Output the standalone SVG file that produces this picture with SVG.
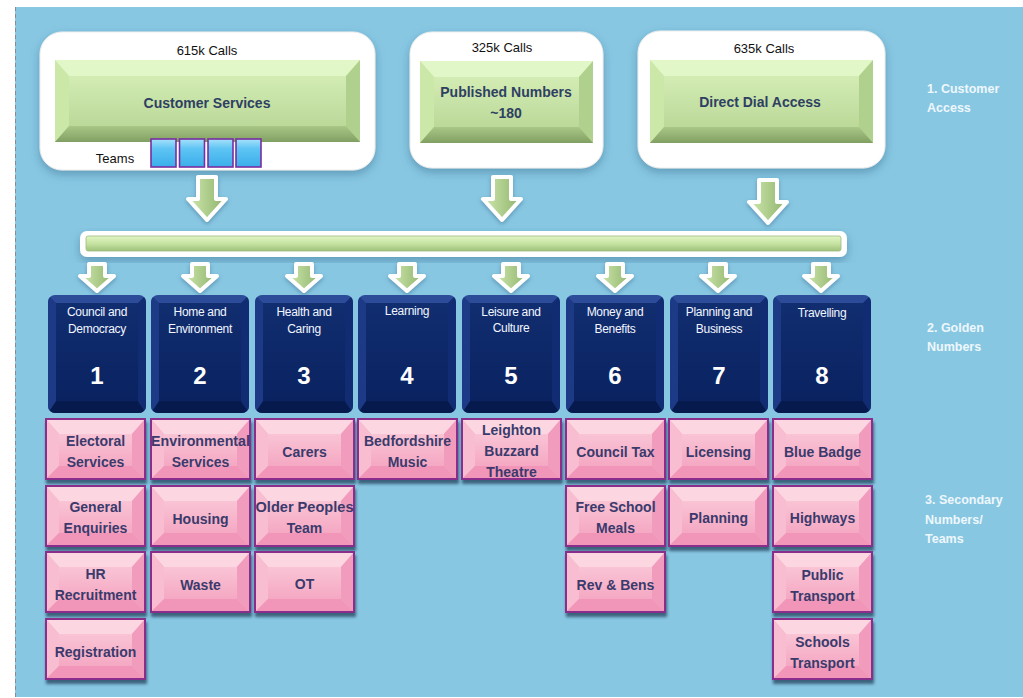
<svg xmlns="http://www.w3.org/2000/svg" xmlns:xlink="http://www.w3.org/1999/xlink" width="1023" height="698" viewBox="0 0 1023 698">
<style>
.calls{font-family:"Liberation Sans",Arial,sans-serif;font-size:13px;fill:#111;text-anchor:middle}
.gtitle{font-family:"Liberation Sans",Arial,sans-serif;font-size:14px;font-weight:bold;fill:#2E4062;text-anchor:middle}
.ht{font-family:"Liberation Sans",Arial,sans-serif;font-size:12px;fill:#F2F6FF;text-anchor:middle;letter-spacing:-0.3px}
.num{font-family:"Liberation Sans",Arial,sans-serif;font-size:24px;font-weight:bold;fill:#FFFFFF;text-anchor:middle}
.pt{font-family:"Liberation Sans",Arial,sans-serif;font-size:14px;font-weight:bold;fill:#3A3A6C;text-anchor:middle}
.side{font-family:"Liberation Sans",Arial,sans-serif;font-size:12.5px;font-weight:bold;fill:#EEF7FC}
.arrow{fill:url(#arrowG);stroke:#FFFFFF;stroke-width:4;stroke-linejoin:round}
.panel{fill:#FFFFFF;stroke:#EDEDED;stroke-width:1}
</style>
<defs>
  <linearGradient id="arrowG" x1="0" y1="0" x2="1" y2="0">
    <stop offset="0" stop-color="#CFE8AE"/>
    <stop offset="1" stop-color="#8FB36C"/>
  </linearGradient>
  <linearGradient id="greenFace" x1="0" y1="0" x2="0" y2="1">
    <stop offset="0" stop-color="#DAF2BC"/>
    <stop offset="1" stop-color="#B4D391"/>
  </linearGradient>
  <linearGradient id="greenBot" x1="0" y1="0" x2="0" y2="1">
    <stop offset="0" stop-color="#A9C887"/>
    <stop offset="1" stop-color="#809F62"/>
  </linearGradient>
  <linearGradient id="busG" x1="0" y1="0" x2="0" y2="1">
    <stop offset="0" stop-color="#E2F6C6"/>
    <stop offset="0.5" stop-color="#C6E3A2"/>
    <stop offset="1" stop-color="#9FC27B"/>
  </linearGradient>
  <linearGradient id="teamG" x1="0" y1="0" x2="0" y2="1">
    <stop offset="0" stop-color="#A6E2FB"/>
    <stop offset="0.35" stop-color="#5EC4F4"/>
    <stop offset="1" stop-color="#3AAEEA"/>
  </linearGradient>
  <linearGradient id="gface" x1="0" y1="0" x2="0" y2="1">
    <stop offset="0" stop-color="#112E70"/>
    <stop offset="1" stop-color="#0A2260"/>
  </linearGradient>
  <linearGradient id="pface" x1="0" y1="0" x2="0" y2="1">
    <stop offset="0" stop-color="#F9C4D5"/>
    <stop offset="1" stop-color="#F5A8C3"/>
  </linearGradient>
  <filter id="panelShadow" x="-10%" y="-10%" width="120%" height="130%">
    <feDropShadow dx="0" dy="4" stdDeviation="5" flood-color="#2F6688" flood-opacity="0.45"/>
  </filter>
  <filter id="boxShadow" x="-10%" y="-10%" width="120%" height="130%">
    <feDropShadow dx="1" dy="4" stdDeviation="1.6" flood-color="#23405C" flood-opacity="0.75"/>
  </filter>
  <filter id="arrowShadow" x="-30%" y="-20%" width="160%" height="150%">
    <feDropShadow dx="0" dy="2" stdDeviation="2" flood-color="#2F6688" flood-opacity="0.5"/>
  </filter>
  <clipPath id="gclip"><rect width="98" height="118" rx="7"/></clipPath>
  <g id="gbox">
    <g clip-path="url(#gclip)">
      <rect width="98" height="118" fill="#2C4B98"/>
      <polygon points="0,0 8,8 8,106 0,118" fill="#1C3A86"/>
      <polygon points="98,0 90,8 90,106 98,118" fill="#112C72"/>
      <polygon points="0,118 8,106 90,106 98,118" fill="#061A4E"/>
      <rect x="8" y="8" width="82" height="98" fill="url(#gface)"/>
    </g>
  </g>
  <g id="pbox">
    <rect width="101" height="62" fill="#F6AEC7"/>
    <polygon points="0,0 101,0 87,16 14,16" fill="#FCD6E1"/>
    <polygon points="0,0 14,16 14,48 0,62" fill="#F8BDD0"/>
    <polygon points="101,0 87,16 87,48 101,62" fill="#F29CBD"/>
    <polygon points="0,62 14,48 87,48 101,62" fill="#F196B8"/>
    <rect x="14" y="16" width="73" height="32" fill="url(#pface)"/>
    <rect x="1" y="1" width="99" height="60" fill="none" stroke="#8A2F8C" stroke-width="2"/>
  </g>
  <path id="bigArrow" d="M-9,0 H9 V22 H19 L0,43 L-19,22 H-9 Z"/>
  <path id="smArrow" d="M-8,0 H8 V12 H17 L0,27 L-17,12 H-8 Z"/>
  <rect id="team" width="25" height="28" fill="url(#teamG)" stroke="#7A2DA0" stroke-width="1.6"/>
</defs>

<!-- background -->
<rect x="0" y="0" width="1023" height="698" fill="#FFFFFF"/>
<rect x="15" y="7" width="1008" height="690" fill="#88C7E2"/>
<line x1="15.5" y1="7" x2="15.5" y2="697" stroke="#8A8A8A" stroke-width="1" stroke-dasharray="4,3"/>

<!-- Level 1: customer access -->
<g id="customer-services">
  <rect class="panel" x="40" y="32" width="335" height="138" rx="22" filter="url(#panelShadow)"/>
  <text class="calls" x="207" y="55">615k Calls</text>
  <rect x="55" y="60" width="305" height="82" fill="url(#greenFace)"/>
  <polygon points="55,60 360,60 346,76 69,76" fill="#E2F7C7"/>
  <polygon points="55,60 69,76 69,126 55,142" fill="#CBE8A9"/>
  <polygon points="360,60 346,76 346,126 360,142" fill="#B0D08D"/>
  <polygon points="55,142 69,126 346,126 360,142" fill="url(#greenBot)"/>
  <text class="gtitle" x="207" y="108">Customer Services</text>
  <text class="calls" x="115" y="163">Teams</text>
  <use href="#team" x="151" y="139"/>
  <use href="#team" x="179.5" y="139"/>
  <use href="#team" x="208" y="139"/>
  <use href="#team" x="236" y="139"/>
</g>

<g id="published-numbers">
  <rect class="panel" x="410" y="32" width="193" height="136" rx="22" filter="url(#panelShadow)"/>
  <text class="calls" x="502" y="52">325k Calls</text>
  <rect x="420" y="61" width="173" height="82" fill="url(#greenFace)"/>
  <polygon points="420,61 593,61 579,77 434,77" fill="#E2F7C7"/>
  <polygon points="420,61 434,77 434,127 420,143" fill="#CBE8A9"/>
  <polygon points="593,61 579,77 579,127 593,143" fill="#B0D08D"/>
  <polygon points="420,143 434,127 579,127 593,143" fill="url(#greenBot)"/>
  <text class="gtitle" x="506" y="97">Published Numbers</text>
  <text class="gtitle" x="506" y="118">~180</text>
</g>

<g id="direct-dial">
  <rect class="panel" x="638" y="31" width="247" height="137" rx="22" filter="url(#panelShadow)"/>
  <text class="calls" x="764" y="53">635k Calls</text>
  <rect x="650" y="60" width="223" height="83" fill="url(#greenFace)"/>
  <polygon points="650,60 873,60 859,76 664,76" fill="#E2F7C7"/>
  <polygon points="650,60 664,76 664,127 650,143" fill="#CBE8A9"/>
  <polygon points="873,60 859,76 859,127 873,143" fill="#B0D08D"/>
  <polygon points="650,143 664,127 859,127 873,143" fill="url(#greenBot)"/>
  <text class="gtitle" x="760" y="107">Direct Dial Access</text>
</g>

<!-- connectors -->
<g id="connectors">
  <use class="arrow" href="#bigArrow" x="207" y="177" filter="url(#arrowShadow)"/>
  <use class="arrow" href="#bigArrow" x="502" y="177" filter="url(#arrowShadow)"/>
  <use class="arrow" href="#bigArrow" x="768" y="180" filter="url(#arrowShadow)"/>
  <g id="bus">
    <rect x="80" y="231" width="767" height="26" rx="7" fill="#FFFFFF" filter="url(#panelShadow)"/>
    <rect x="86" y="236" width="755" height="15" rx="2" fill="url(#busG)" stroke="#9DBB7E" stroke-width="0.8"/>
  </g>
  <use class="arrow" href="#smArrow" x="97" y="264" filter="url(#arrowShadow)"/>
  <use class="arrow" href="#smArrow" x="200" y="264" filter="url(#arrowShadow)"/>
  <use class="arrow" href="#smArrow" x="304" y="264" filter="url(#arrowShadow)"/>
  <use class="arrow" href="#smArrow" x="407" y="264" filter="url(#arrowShadow)"/>
  <use class="arrow" href="#smArrow" x="511" y="264" filter="url(#arrowShadow)"/>
  <use class="arrow" href="#smArrow" x="615" y="264" filter="url(#arrowShadow)"/>
  <use class="arrow" href="#smArrow" x="718" y="264" filter="url(#arrowShadow)"/>
  <use class="arrow" href="#smArrow" x="821" y="264" filter="url(#arrowShadow)"/>
</g>

<!-- Level 2: golden numbers -->
<g id="golden-1"><use href="#gbox" x="48" y="295"/><text class="ht" x="97" y="316">Council and</text><text class="ht" x="97" y="333">Democracy</text><text class="num" x="97" y="384">1</text></g>
<g id="golden-2"><use href="#gbox" x="151" y="295"/><text class="ht" x="200" y="316">Home and</text><text class="ht" x="200" y="333">Environment</text><text class="num" x="200" y="384">2</text></g>
<g id="golden-3"><use href="#gbox" x="255" y="295"/><text class="ht" x="304" y="316">Health and</text><text class="ht" x="304" y="333">Caring</text><text class="num" x="304" y="384">3</text></g>
<g id="golden-4"><use href="#gbox" x="358" y="295"/><text class="ht" x="407" y="315">Learning</text><text class="num" x="407" y="384">4</text></g>
<g id="golden-5"><use href="#gbox" x="462" y="295"/><text class="ht" x="511" y="316">Leisure and</text><text class="ht" x="511" y="332">Culture</text><text class="num" x="511" y="384">5</text></g>
<g id="golden-6"><use href="#gbox" x="566" y="295"/><text class="ht" x="615" y="316">Money and</text><text class="ht" x="615" y="333">Benefits</text><text class="num" x="615" y="384">6</text></g>
<g id="golden-7"><use href="#gbox" x="670" y="295"/><text class="ht" x="719" y="316">Planning and</text><text class="ht" x="719" y="333">Business</text><text class="num" x="719" y="384">7</text></g>
<g id="golden-8"><use href="#gbox" x="773" y="295"/><text class="ht" x="822" y="317">Travelling</text><text class="num" x="822" y="384">8</text></g>

<!-- Level 3: secondary numbers / teams -->
<g id="electoral"><use href="#pbox" x="45" y="418" filter="url(#boxShadow)"/><text class="pt" x="95.5" y="446">Electoral</text><text class="pt" x="95.5" y="467">Services</text></g>
<g id="general-enquiries"><use href="#pbox" x="45" y="485" filter="url(#boxShadow)"/><text class="pt" x="95.5" y="512">General</text><text class="pt" x="95.5" y="533">Enquiries</text></g>
<g id="hr-recruitment"><use href="#pbox" x="45" y="551" filter="url(#boxShadow)"/><text class="pt" x="95.5" y="579">HR</text><text class="pt" x="95.5" y="600">Recruitment</text></g>
<g id="registration"><use href="#pbox" x="45" y="618" filter="url(#boxShadow)"/><text class="pt" x="95.5" y="657">Registration</text></g>

<g id="environmental"><use href="#pbox" x="150" y="418" filter="url(#boxShadow)"/><text class="pt" x="200.5" y="446" textLength="99" lengthAdjust="spacingAndGlyphs">Environmental</text><text class="pt" x="200.5" y="467">Services</text></g>
<g id="housing"><use href="#pbox" x="150" y="485" filter="url(#boxShadow)"/><text class="pt" x="200.5" y="524">Housing</text></g>
<g id="waste"><use href="#pbox" x="150" y="551" filter="url(#boxShadow)"/><text class="pt" x="200.5" y="590">Waste</text></g>

<g id="carers"><use href="#pbox" x="254" y="418" filter="url(#boxShadow)"/><text class="pt" x="304.5" y="457">Carers</text></g>
<g id="older-peoples"><use href="#pbox" x="254" y="485" filter="url(#boxShadow)"/><text class="pt" x="304.5" y="512" textLength="98" lengthAdjust="spacingAndGlyphs">Older Peoples</text><text class="pt" x="304.5" y="533">Team</text></g>
<g id="ot"><use href="#pbox" x="254" y="551" filter="url(#boxShadow)"/><text class="pt" x="304.5" y="589">OT</text></g>

<g id="bedfordshire-music"><use href="#pbox" x="357" y="418" filter="url(#boxShadow)"/><text class="pt" x="407.5" y="446">Bedfordshire</text><text class="pt" x="407.5" y="467">Music</text></g>

<g id="leighton-buzzard"><use href="#pbox" x="461" y="418" filter="url(#boxShadow)"/><text class="pt" x="511.5" y="435">Leighton</text><text class="pt" x="511.5" y="456">Buzzard</text><text class="pt" x="511.5" y="477">Theatre</text></g>

<g id="council-tax"><use href="#pbox" x="565" y="418" filter="url(#boxShadow)"/><text class="pt" x="615.5" y="457">Council Tax</text></g>
<g id="free-school-meals"><use href="#pbox" x="565" y="485" filter="url(#boxShadow)"/><text class="pt" x="615.5" y="512">Free School</text><text class="pt" x="615.5" y="533">Meals</text></g>
<g id="rev-bens"><use href="#pbox" x="565" y="551" filter="url(#boxShadow)"/><text class="pt" x="615.5" y="590">Rev &amp; Bens</text></g>

<g id="licensing"><use href="#pbox" x="668" y="418" filter="url(#boxShadow)"/><text class="pt" x="718.5" y="457">Licensing</text></g>
<g id="planning"><use href="#pbox" x="668" y="485" filter="url(#boxShadow)"/><text class="pt" x="718.5" y="523">Planning</text></g>

<g id="blue-badge"><use href="#pbox" x="772" y="418" filter="url(#boxShadow)"/><text class="pt" x="822.5" y="457">Blue Badge</text></g>
<g id="highways"><use href="#pbox" x="772" y="485" filter="url(#boxShadow)"/><text class="pt" x="822.5" y="523">Highways</text></g>
<g id="public-transport"><use href="#pbox" x="772" y="551" filter="url(#boxShadow)"/><text class="pt" x="822.5" y="580">Public</text><text class="pt" x="822.5" y="601">Transport</text></g>
<g id="schools-transport"><use href="#pbox" x="772" y="618" filter="url(#boxShadow)"/><text class="pt" x="822.5" y="647">Schools</text><text class="pt" x="822.5" y="668">Transport</text></g>

<!-- side labels -->
<g id="labels">
  <text class="side" x="927" y="93">1. Customer</text>
  <text class="side" x="927" y="112">Access</text>
  <text class="side" x="927" y="332">2. Golden</text>
  <text class="side" x="927" y="351">Numbers</text>
  <text class="side" x="925" y="504">3. Secondary</text>
  <text class="side" x="925" y="524">Numbers/</text>
  <text class="side" x="925" y="543">Teams</text>
</g>
</svg>
